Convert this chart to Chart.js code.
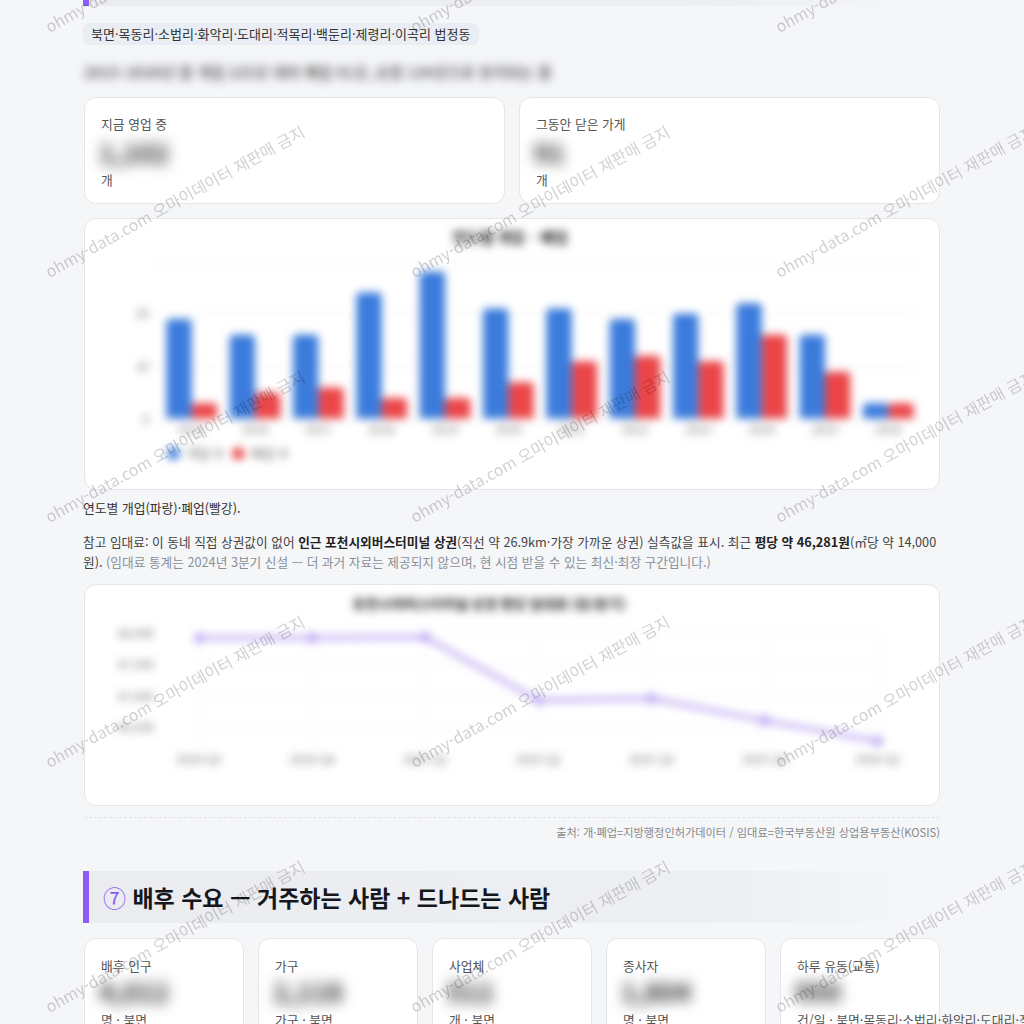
<!DOCTYPE html>
<html lang="ko"><head><meta charset="utf-8">
<script src="https://cdn.jsdelivr.net/npm/chart.js@4.4.1/dist/chart.umd.min.js"></script>
<style>
html,body{margin:0;padding:0;}
body{width:1024px;height:1024px;overflow:hidden;background:#f5f6f8;font-family:"Noto Sans CJK KR","Noto Sans",sans-serif;color:#333;position:relative;}
.a{position:absolute;white-space:nowrap;}
.card{position:absolute;background:#fff;border:1px solid #e4e6ea;border-radius:12px;box-sizing:border-box;}
.sec{position:absolute;left:83px;width:820px;height:52px;box-sizing:border-box;border-left:6px solid #8b5cf6;background:linear-gradient(90deg,#ebecf0 0%,#eeeff2 80%,rgba(245,246,248,0) 100%);}
.lbl{position:absolute;left:16px;font-size:12.8px;line-height:18px;color:#555;white-space:nowrap;}
.num{position:absolute;left:14px;font-size:26px;line-height:30px;font-weight:700;color:#222;filter:blur(7px);white-space:nowrap;}
.sub{position:absolute;left:16px;font-size:12.8px;line-height:18px;color:#555;white-space:nowrap;}
.cv{position:absolute;filter:blur(4px);}
.cv canvas{display:block;}
.wm{position:absolute;font-size:16px;line-height:16px;color:rgba(0,0,0,0.19);white-space:nowrap;transform-origin:0 100%;transform:rotate(-29deg);font-family:"Noto Sans CJK KR","Noto Sans",sans-serif;}
#wms{position:absolute;left:0;top:0;width:1024px;height:1024px;overflow:hidden;pointer-events:none;z-index:10;}
</style></head>
<body>
<script>
// ---- data ----
const years = ['2015','2016','2017','2018','2019','2020','2021','2022','2023','2024','2025','2026'];
const openings = [19,16,16,24,28,21,21,19,20,22,16,3];
const closures = [3,5,6,4,4,7,11,12,11,16,9,3];
const openLabel = '개업 수';
const closeLabel = '폐업 수';
const quarters = ['2024 Q3','2024 Q4','2025 Q1','2025 Q2','2025 Q3','2025 Q4','2026 Q1'];
const rentPerPyeong = [47920,47920,47930,46930,46960,46610,46281];
const rentTicks = [46500,47000,47500,48000];
</script>

<div class="sec" style="top:-46px;"></div>
<div class="a" style="left:83px;top:23px;height:22px;line-height:22px;padding:0 8px;background:#eaeef4;border-radius:6px;font-size:13px;color:#333;">북면·목동리·소법리·화악리·도대리·적목리·백둔리·제령리·이곡리 법정동</div>
<div class="a" style="left:84px;top:61px;font-size:15px;line-height:22px;font-weight:500;color:#444;filter:blur(5px);">2015~2026년 중 개업 225곳 대비 폐업 91곳, 순증 134곳으로 유지되는 중</div>

<div class="card" style="left:84px;top:97px;width:421px;height:107px;">
  <div class="lbl" style="top:17px;">지금 영업 중</div>
  <div class="num" style="top:39px;">1,102</div>
  <div class="sub" style="top:73px;">개</div>
</div>
<div class="card" style="left:519px;top:97px;width:421px;height:107px;">
  <div class="lbl" style="top:17px;">그동안 닫은 가게</div>
  <div class="num" style="top:39px;">91</div>
  <div class="sub" style="top:73px;">개</div>
</div>

<div class="card" style="left:84px;top:218px;width:856px;height:272px;"></div>
<div class="cv" style="left:100px;top:226px;width:824px;height:244px;"><canvas id="barChart" width="824" height="244"></canvas></div>

<div class="a" style="left:83px;top:498px;font-size:12.8px;line-height:20px;color:#333;">연도별 개업(파랑)·폐업(빨강).</div>
<div class="a" style="left:83px;top:532px;width:856px;white-space:normal;font-size:12.7px;line-height:20px;color:#444;">참고 임대료: 이 동네 직접 상권값이 없어 <b style="color:#222">인근 포천시외버스터미널 상권</b>(직선 약 26.9km·가장 가까운 상권) 실측값을 표시. 최근 <b style="color:#222">평당 약 46,281원</b>(㎡당 약 14,000원). <span style="color:#8a8f98">(임대료 통계는 2024년 3분기 신설 — 더 과거 자료는 제공되지 않으며, 현 시점 받을 수 있는 최신·최장 구간입니다.)</span></div>

<div class="card" style="left:84px;top:584px;width:856px;height:222px;"></div>
<div class="cv" style="left:100px;top:592px;width:824px;height:178px;"><canvas id="lineChart" width="824" height="178"></canvas></div>

<div class="a" style="left:84px;top:817px;width:856px;border-top:1px dashed #e0e2e6;"></div>
<div class="a" style="right:84px;top:824px;font-size:11.2px;line-height:16px;color:#888;">출처: 개·폐업=지방행정인허가데이터 / 임대료=한국부동산원 상업용부동산(KOSIS)</div>

<div class="sec" style="top:871px;"><div class="a" style="left:14px;top:0;line-height:52px;font-size:23px;font-weight:700;color:#15171c;"><span style="color:#8b5cf6;font-weight:400;">⑦</span> 배후 수요 — 거주하는 사람 + 드나드는 사람</div></div>

<div class="card" style="left:84px;top:938px;width:160px;height:110px;">
  <div class="lbl" style="top:18px;">배후 인구</div><div class="num" style="top:37px;">4,012</div><div class="sub" style="top:72px;">명 · 북면</div></div>
<div class="card" style="left:258px;top:938px;width:160px;height:110px;">
  <div class="lbl" style="top:18px;">가구</div><div class="num" style="top:37px;">2,118</div><div class="sub" style="top:72px;">가구 · 북면</div></div>
<div class="card" style="left:432px;top:938px;width:160px;height:110px;">
  <div class="lbl" style="top:18px;">사업체</div><div class="num" style="top:37px;">512</div><div class="sub" style="top:72px;">개 · 북면</div></div>
<div class="card" style="left:606px;top:938px;width:160px;height:110px;">
  <div class="lbl" style="top:18px;">종사자</div><div class="num" style="top:37px;">1,804</div><div class="sub" style="top:72px;">명 · 북면</div></div>
<div class="card" style="left:780px;top:938px;width:160px;height:110px;">
  <div class="lbl" style="top:18px;">하루 유동(교통)</div><div class="num" style="top:37px;">950</div><div class="sub" style="top:72px;">건/일 · 북면·목동리·소법리·화악리·도대리·적목리·백둔리</div></div>

<div id="wms"></div>

<script>
const F = '"Noto Sans CJK KR","Noto Sans",sans-serif';
Chart.defaults.font.family = F;

new Chart(document.getElementById('barChart'), {
  type: 'bar',
  data: {
    labels: years,
    datasets: [
      {label: openLabel, data: openings, backgroundColor: '#3a7bdc', borderRadius: 4, categoryPercentage: 0.8, barPercentage: 1.0},
      {label: closeLabel, data: closures, backgroundColor: '#eb4548', borderRadius: 4, categoryPercentage: 0.8, barPercentage: 1.0}
    ]
  },
  options: {
    responsive: false, animation: false, devicePixelRatio: 1,
    layout: {padding: {left: 0, right: 4, top: 0, bottom: 0}},
    plugins: {
      title: {display: true, text: '연도별 개업 · 폐업', font: {size: 15, weight: 'bold'}, color: '#222', padding: {top: 2, bottom: 15}},
      legend: {position: 'bottom', align: 'start', fullSize: false,
        labels: {usePointStyle: true, pointStyle: 'circle', boxWidth: 12, boxHeight: 9, padding: 7.5, font: {size: 13}, color: '#666'}},
      tooltip: {enabled: false}
    },
    scales: {
      x: {grid: {display: false, drawTicks: false}, border: {display: false}, ticks: {font: {size: 12}, color: '#777', padding: 3}},
      y: {min: 0, max: 30, ticks: {stepSize: 10, font: {size: 12}, color: '#777', callback: v => (v >= 30 ? '' : v)},
          grid: {color: '#eeeeee'}, border: {display: false}, afterFit: s => { s.width = 60; }}
    }
  }
});

new Chart(document.getElementById('lineChart'), {
  type: 'line',
  data: {
    labels: quarters,
    datasets: [{label: '평당 임대료', data: rentPerPyeong, borderColor: '#b9a3f3', backgroundColor: '#b9a3f3',
      borderWidth: 4, pointRadius: 3, tension: 0, fill: false}]
  },
  options: {
    responsive: false, animation: false, devicePixelRatio: 1,
    layout: {padding: {left: 0, right: 46, top: 0, bottom: 0}},
    plugins: {
      title: {display: true, text: '포천시외버스터미널 상권 평당 임대료 (원/분기)', font: {size: 14, weight: 'bold'}, color: '#222', padding: {top: 3, bottom: 18}},
      legend: {display: false},
      tooltip: {enabled: false}
    },
    scales: {
      x: {grid: {color: '#f0f0f0', drawTicks: false}, border: {display: false}, ticks: {font: {size: 12}, color: '#777', padding: 3}},
      y: {min: 46150, max: 48050,
          afterBuildTicks: s => { s.ticks = rentTicks.map(v => ({value: v})); },
          ticks: {padding: 3, font: {size: 12}, color: '#777', callback: v => Number(v).toLocaleString('en-US')},
          grid: {color: '#f0f0f0', tickLength: 42, tickColor: 'rgba(0,0,0,0)'}, border: {display: false}, afterFit: s => { s.width = 99; }}
    }
  }
});

// watermark overlay
const wmText = 'ohmy-data.com 오마이데이터 재판매 금지';
const wms = document.getElementById('wms');
for (let i = 0; i < 3; i++) {
  for (let j = 0; j < 5; j++) {
    const d = document.createElement('div');
    d.className = 'wm';
    d.textContent = wmText;
    d.style.left = (50 + 365 * i) + 'px';
    d.style.top = (34 + 245 * j - 16) + 'px';
    wms.appendChild(d);
  }
}
</script>
</body></html>
